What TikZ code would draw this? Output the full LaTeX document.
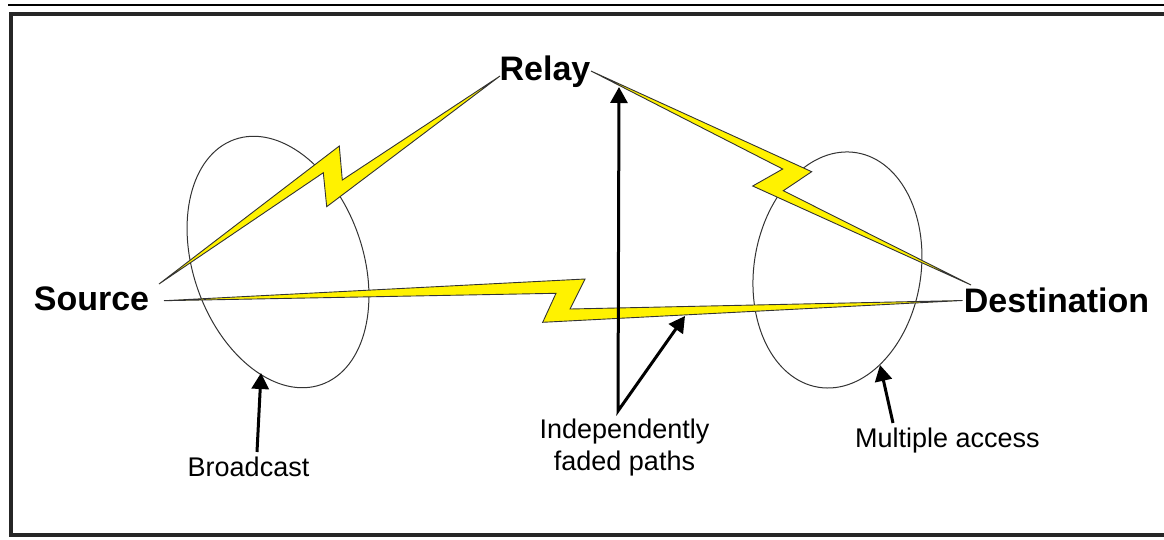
\documentclass[tikz,border=0pt]{standalone}
\usepackage{fontspec}
\setmainfont{Liberation Sans}
\usetikzlibrary{arrows.meta}
\begin{document}
\begin{tikzpicture}[x=1pt,y=-1pt,
  biglabel/.style={font=\bfseries\fontsize{34}{40}\selectfont,inner sep=0pt,anchor=base},
  smalllabel/.style={font=\fontsize{27}{32}\selectfont,inner sep=0pt,align=center},
  bolt/.style={fill=yellow,draw=black!80,line width=0.9pt,line join=miter},
  zone/.style={draw=black!80,line width=1pt},
  pointer/.style={line width=3pt,-{Triangle[length=16pt,width=17pt]}},
  frame/.style={draw=black!85,line width=3.6pt}]
\useasboundingbox (0,0) rectangle (1164,539);
% top rule and frame
\coordinate (ruleL) at (8,5);
\coordinate (ruleR) at (1170,5);
\draw[line width=1.2pt] (ruleL) -- (ruleR);
\draw[frame] (11,14) rectangle (1175,535);
% zones
\coordinate (czL) at (278,262);
\coordinate (czR) at (837.5,270);
\draw[zone,rotate around={19.6:(czL)}] (czL) ellipse[x radius=84.7pt,y radius=130pt];
\draw[zone,rotate around={-9.2:(czR)}] (czR) ellipse[x radius=83.4pt,y radius=118.8pt];
% labels
\node[biglabel] (relay) at (545,80) {Relay};
\node[biglabel] (source) at (91.5,310) {Source};
\node[biglabel] (dest) at (1056.5,312) {Destination};
\node[smalllabel,anchor=base] (bcast) at (248.5,476) {Broadcast};
\node[smalllabel,anchor=north] (indep) at (624.5,418.5) {Independently\\faded paths};
\node[smalllabel,anchor=base] (macc) at (947.5,447) {Multiple access};
% bolt tips
\coordinate (sR) at (500,76);
\coordinate (sS1) at (159,284);
\coordinate (rR) at (591,71);
\coordinate (dD1) at (971,285);
\coordinate (sS2) at (164,300.7);
\coordinate (dD2) at (962.5,300.5);
% bolt source-relay
\path[bolt] (sR) -- (342.3,180) -- (339.3,146) -- (sS1) -- (323.3,172.7) -- (326.7,206.7) -- cycle;
% bolt relay-destination
\path[bolt] (rR) -- (811.7,171.7) -- (783.3,190.7) -- (dD1) -- (752.7,186) -- (782.7,169) -- cycle;
% bolt source-destination
\path[bolt] (sS2) -- (585,279) -- (570,309) -- (dD2) -- (542.7,322.3) -- (556,293.3) -- cycle;
% pointers
\coordinate (vtop) at (619,87);
\coordinate (vbot) at (618,411);
\coordinate (vbolt) at (685,316);
\draw[pointer,{Triangle[length=16pt,width=17pt]}-{Triangle[length=16pt,width=17pt]},line join=miter] (vtop) -- (vbot) -- (vbolt);
\coordinate (bcastS) at (257,452);
\coordinate (bcastT) at (261,373);
\draw[pointer] (bcastS) -- (bcastT);
\coordinate (maccS) at (893,423);
\coordinate (maccT) at (880,365);
\draw[pointer] (maccS) -- (maccT);
\end{tikzpicture}
\end{document}
